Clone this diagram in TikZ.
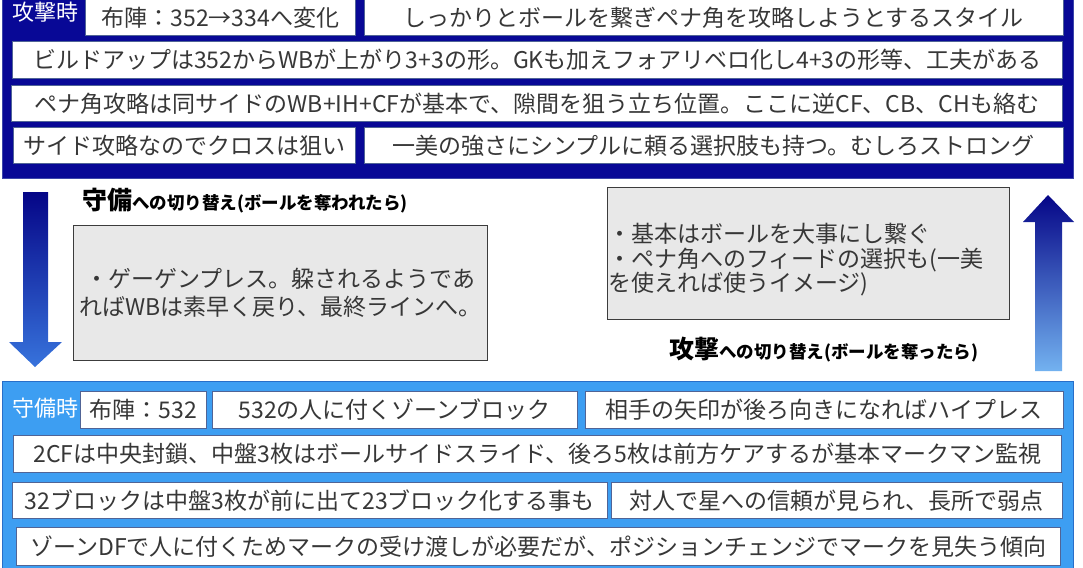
\documentclass[tikz,border=0pt]{standalone}
\usepackage{fontspec}
\newfontfamily\jp{Noto Sans CJK JP}
\usepackage{xcolor}
\usetikzlibrary{positioning}

\definecolor{atknavy}{RGB}{8,8,150}
\definecolor{atkedge}{RGB}{60,70,170}
\definecolor{defblue}{RGB}{61,158,242}
\definecolor{defedge}{RGB}{40,110,200}
\definecolor{cellline}{RGB}{80,100,150}
\definecolor{ink}{RGB}{55,55,55}
\definecolor{notegray}{RGB}{232,232,232}
\definecolor{noteline}{RGB}{60,60,60}
\definecolor{arrowtop}{RGB}{5,5,135}
\definecolor{downbot}{RGB}{55,115,220}
\definecolor{upbot}{RGB}{115,178,240}

\tikzset{
  cellbox/.style={draw=cellline, fill=white, line width=0.8pt, inner sep=0pt, minimum height=36pt, text=ink, anchor=north west, font=\jp\fontsize{23}{25}\selectfont},
  notebox/.style={draw=noteline, fill=notegray, line width=1.2pt, inner sep=1pt, anchor=north west, text=ink},
  phasetag/.style={anchor=base west, inner sep=0pt, font=\jp\fontsize{22}{22}\selectfont},
  swlabel/.style={anchor=base west, inner sep=0pt, text=black, font=\jp\bfseries}
}

\begin{document}
\begin{tikzpicture}[x=1pt, y=-1pt]
\useasboundingbox (0,0) rectangle (1083,567);

% attack phase
\path[fill=atknavy, draw=atkedge, line width=1pt] (2,-5) rectangle (1073,178);
\node (atktag) [phasetag, text=white] at (12,21) {攻撃時};
\node (atkform) [cellbox, minimum width=270pt] at (85,-1) {布陣：352→334へ変化};
\node (atkstyle) [cellbox, minimum width=699pt, right=8pt of atkform] {しっかりとボールを繋ぎペナ角を攻略しようとするスタイル};
\node (atkbuild) [cellbox, minimum width=1050pt, minimum height=37pt] at (12,41) {ビルドアップは352からWBが上がり3+3の形。GKも加えフォアリベロ化し4+3の形等、工夫がある};
\node (atkpena) [cellbox, minimum width=1051pt] at (11,85) {ペナ角攻略は同サイドのWB+IH+CFが基本で、隙間を狙う立ち位置。ここに逆CF、CB、CHも絡む};
\node (atkcross) [cellbox, minimum width=342pt] at (13,127) {サイド攻略なのでクロスは狙い};
\node (atkstrong) [cellbox, minimum width=699pt, right=8pt of atkcross] {一美の強さにシンプルに頼る選択肢も持つ。むしろストロング};

% transitions
\shade[top color=arrowtop, bottom color=downbot] (23,192) -- (48,192) -- (48,342) -- (62,342) -- (35,367) -- (9,342) -- (23,342) -- cycle;
\shade[top color=arrowtop, bottom color=upbot] (1035,371) -- (1035,222) -- (1023,222) -- (1048,195) -- (1074,222) -- (1062,222) -- (1062,371) -- cycle;

\node (defswitch) [swlabel] at (82,209) {{\fontsize{25}{25}\selectfont 守備}{\fontsize{17.5}{18}\selectfont への切り替え(ボールを奪われたら)}};
\node (defnote) [notebox, minimum width=414pt, minimum height=135pt, align=center, font=\jp\fontsize{23}{28}\selectfont] at (73,225) {・ゲーゲンプレス。躱されるようであ\\ればWBは素早く戻り、最終ラインへ。};

\node (atknote) [notebox, minimum width=402pt, minimum height=132pt] at (607,187) {};
\node (atknotetext) [anchor=north west, inner sep=0pt, text=ink, text width=398pt, align=left, font=\jp\fontsize{23}{24.5}\selectfont] at ([shift={(1,36)}]atknote.north west) {・基本はボールを大事にし繋ぐ\\・ペナ角へのフィードの選択も(一美\\を使えれば使うイメージ)};
\node (atkswitch) [swlabel] at (669,358) {{\fontsize{25}{25}\selectfont 攻撃}{\fontsize{17.5}{18}\selectfont への切り替え(ボールを奪ったら)}};

% defence phase
\path[fill=defblue, draw=defedge, line width=1pt] (2,381) rectangle (1073,590);
\node (deftag) [phasetag, text=white] at (12,416) {守備時};
\node (defform) [cellbox, minimum width=126pt, minimum height=37pt] at (80,391) {布陣：532};
\node (defzone) [cellbox, minimum width=365pt, minimum height=37pt, right=5pt of defform] {532の人に付くゾーンブロック};
\node (defpress) [cellbox, minimum width=478pt, minimum height=37pt, right=7pt of defzone] {相手の矢印が後ろ向きになればハイプレス};
\node (defcf) [cellbox, minimum width=1048pt, minimum height=37pt] at (13,435) {2CFは中央封鎖、中盤3枚はボールサイドスライド、後ろ5枚は前方ケアするが基本マークマン監視};
\node (defblock) [cellbox, minimum width=595pt] at (12,482) {32ブロックは中盤3枚が前に出て23ブロック化する事も};
\node (defstar) [cellbox, minimum width=451pt, right=3pt of defblock] {対人で星への信頼が見られ、長所で弱点};
\node (defmark) [cellbox, minimum width=1044pt, minimum height=38pt] at (16,527) {ゾーンDFで人に付くためマークの受け渡しが必要だが、ポジションチェンジでマークを見失う傾向};
\end{tikzpicture}
\end{document}
